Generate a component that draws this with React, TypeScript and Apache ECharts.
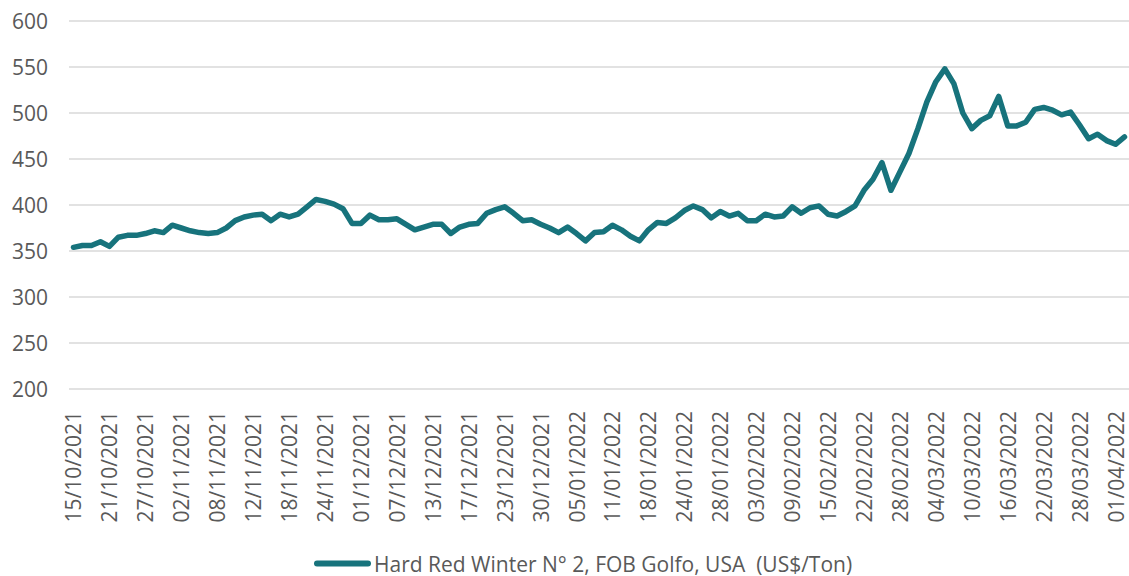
import React, { useEffect, useRef } from "react";
import * as echarts from "echarts";

const seriesName = "Hard Red Winter N° 2, FOB Golfo, USA  (US$/Ton)";

const dates = [
  "15/10/2021", "18/10/2021", "19/10/2021", "20/10/2021", "21/10/2021", "22/10/2021", "25/10/2021", "26/10/2021",
  "27/10/2021", "28/10/2021", "29/10/2021", "01/11/2021", "02/11/2021", "03/11/2021", "04/11/2021", "05/11/2021",
  "08/11/2021", "09/11/2021", "10/11/2021", "11/11/2021", "12/11/2021", "15/11/2021", "16/11/2021", "17/11/2021",
  "18/11/2021", "19/11/2021", "22/11/2021", "23/11/2021", "24/11/2021", "26/11/2021", "29/11/2021", "30/11/2021",
  "01/12/2021", "02/12/2021", "03/12/2021", "06/12/2021", "07/12/2021", "08/12/2021", "09/12/2021", "10/12/2021",
  "13/12/2021", "14/12/2021", "15/12/2021", "16/12/2021", "17/12/2021", "20/12/2021", "21/12/2021", "22/12/2021",
  "23/12/2021", "27/12/2021", "28/12/2021", "29/12/2021", "30/12/2021", "31/12/2021", "03/01/2022", "04/01/2022",
  "05/01/2022", "06/01/2022", "07/01/2022", "10/01/2022", "11/01/2022", "12/01/2022", "13/01/2022", "14/01/2022",
  "18/01/2022", "19/01/2022", "20/01/2022", "21/01/2022", "24/01/2022", "25/01/2022", "26/01/2022", "27/01/2022",
  "28/01/2022", "31/01/2022", "01/02/2022", "02/02/2022", "03/02/2022", "04/02/2022", "07/02/2022", "08/02/2022",
  "09/02/2022", "10/02/2022", "11/02/2022", "14/02/2022", "15/02/2022", "16/02/2022", "17/02/2022", "18/02/2022",
  "22/02/2022", "23/02/2022", "24/02/2022", "25/02/2022", "28/02/2022", "01/03/2022", "02/03/2022", "03/03/2022",
  "04/03/2022", "07/03/2022", "08/03/2022", "09/03/2022", "10/03/2022", "11/03/2022", "14/03/2022", "15/03/2022",
  "16/03/2022", "17/03/2022", "18/03/2022", "21/03/2022", "22/03/2022", "23/03/2022", "24/03/2022", "25/03/2022",
  "28/03/2022", "29/03/2022", "30/03/2022", "31/03/2022", "01/04/2022", "04/04/2022",
];

const prices = [
  354, 356, 356, 360, 355, 365, 367, 367, 369, 372,
  370, 378, 375, 372, 370, 369, 370, 375, 383, 387,
  389, 390, 383, 390, 387, 390, 398, 406, 404, 401,
  396, 380, 380, 389, 384, 384, 385, 379, 373, 376,
  379, 379, 369, 376, 379, 380, 391, 395, 398, 391,
  383, 384, 379, 375, 370, 376, 369, 361, 370, 371,
  378, 373, 366, 361, 373, 381, 380, 386, 394, 399,
  395, 386, 393, 388, 391, 383, 383, 390, 387, 388,
  398, 391, 397, 399, 390, 388, 393, 399, 416, 428,
  446, 416, 436, 456, 483, 512, 534, 548, 532, 500,
  483, 492, 497, 518, 486, 486, 490, 504, 506, 503,
  498, 501, 487, 472, 477, 470, 466, 474,
];

const yMin = 200;
const yMax = 600;
const yStep = 50;

const FONT = "'Open Sans', 'Noto Sans', sans-serif";
const TEXT = "#595959";
const LINE = "#17737c";

export default function App() {
  const ref = useRef<HTMLDivElement>(null);

  useEffect(() => {
    if (!ref.current) return;
    const chart = echarts.init(ref.current, null, { renderer: "svg" });
    chart.setOption({
      animation: false,
      backgroundColor: "#ffffff",
      textStyle: { fontFamily: FONT },
      grid: { left: 69, right: -4, top: 21, bottom: 187, containLabel: false },
      legend: {
        data: [seriesName],
        left: 314,
        top: 553,
        padding: 0,
        icon: "path://M3,0 L54,0 A3,3 0 0 1 54,6 L3,6 A3,3 0 0 1 3,0 Z",
        itemWidth: 57,
        itemHeight: 6,
        textStyle: { fontSize: 21, color: TEXT, fontFamily: FONT, padding: [0, 0, 0, -2] },
      },
      xAxis: {
        type: "category",
        data: dates,
        boundaryGap: true,
        axisLine: { show: false },
        axisTick: { show: false },
        axisLabel: {
          interval: 3,
          rotate: 90,
          margin: 22,
          fontSize: 21,
          color: TEXT,
          fontFamily: FONT,
        },
        splitLine: { show: false },
      },
      yAxis: {
        type: "value",
        min: yMin,
        max: yMax,
        interval: yStep,
        axisLine: { show: false },
        axisTick: { show: false },
        axisLabel: { fontSize: 21, color: TEXT, margin: 21, fontFamily: FONT },
        splitLine: { show: true, lineStyle: { color: "#d9d9d9", width: 1.5 } },
      },
      series: [
        {
          name: seriesName,
          type: "line",
          data: prices,
          symbol: "none",
          smooth: false,
          lineStyle: { color: LINE, width: 5.5, cap: "round", join: "round" },
          itemStyle: { color: LINE },
        },
      ],
    });
    return () => chart.dispose();
  }, []);

  return (
    <div
      ref={ref}
      style={{ position: "fixed", left: 0, top: 0, width: 1129, height: 576, background: "#fff" }}
    />
  );
}
